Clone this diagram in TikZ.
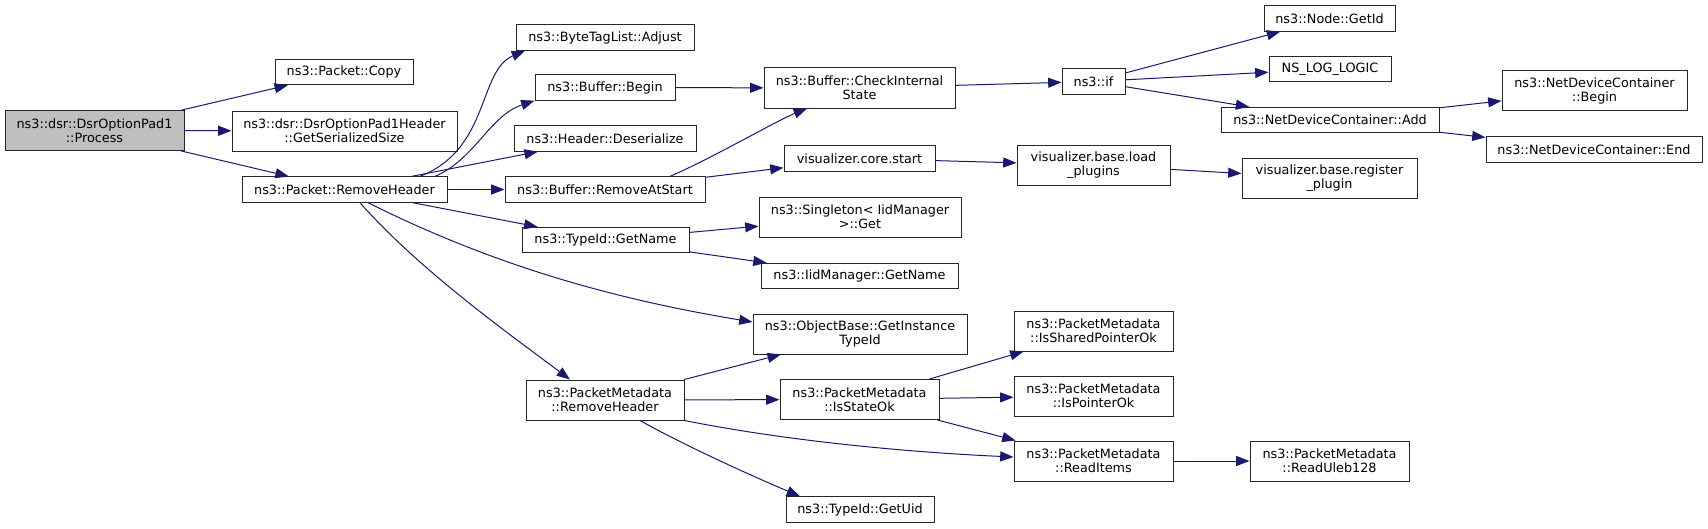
\documentclass[tikz,border=0pt]{standalone}
\usepackage{fontspec}
\setmainfont{DejaVu Sans}
\usetikzlibrary{arrows.meta}
\definecolor{edgeblue}{RGB}{25,25,112}
\definecolor{rootgray}{RGB}{191,191,191}

\begin{document}
\begin{tikzpicture}[x=0.75pt,y=0.75pt,
  every node/.style={font=\fontsize{9.6}{10.5}\selectfont},
  fn/.style={draw=black!85,line width=0.75pt,inner sep=0pt,align=center,minimum height=19pt},
  two/.style={minimum height=30pt},
  wd/.style={minimum width=#1*0.75pt},
  call/.style={draw=edgeblue,line width=0.75pt,-{Triangle[length=10pt,width=7.5pt]}}]
\useasboundingbox (0,0) rectangle (1708,-528);
% first column
\node[fn,two,wd=179,fill=rootgray] (proc) at (94.5,-130.5) {ns3::dsr::DsrOptionPad1\\::Process};
% second column
\node[fn,wd=138] (copy)  at (344,-72)    {ns3::Packet::Copy};
\node[fn,two,wd=225] (gss) at (344.5,-131) {ns3::dsr::DsrOptionPad1Header\\::GetSerializedSize};
\node[fn,wd=205] (prh)   at (344.5,-189.5) {ns3::Packet::RemoveHeader};
% third column
\node[fn,wd=178] (adj)   at (605,-37.5)  {ns3::ByteTagList::Adjust};
\node[fn,wd=140] (bbeg)  at (605,-87.5)  {ns3::Buffer::Begin};
\node[fn,wd=182] (deser) at (605,-138.5) {ns3::Header::Deserialize};
\node[fn,wd=200] (ras)   at (605,-189.5) {ns3::Buffer::RemoveAtStart};
\node[fn,wd=167] (gname) at (605.5,-240) {ns3::TypeId::GetName};
\node[fn,two,wd=158] (pmrh) at (605,-400) {ns3::PacketMetadata\\::RemoveHeader};
% fourth column
\node[fn,two,wd=191] (cis) at (859.5,-88) {ns3::Buffer::CheckInternal\\State};
\node[fn,wd=151] (cstart) at (859.5,-158.5) {visualizer.core.start};
\node[fn,two,wd=202] (single) at (860,-217) {ns3::Singleton< IidManager\\>::Get};
\node[fn,wd=197] (iname) at (859.5,-276) {ns3::IidManager::GetName};
\node[fn,two,wd=214] (oget) at (860,-334) {ns3::ObjectBase::GetInstance\\TypeId};
\node[fn,two,wd=159] (isok) at (859.5,-399.5) {ns3::PacketMetadata\\::IsStateOk};
\node[fn,wd=148] (guid) at (860,-509.5) {ns3::TypeId::GetUid};
% fifth column
\node[fn,wd=63] (nif) at (1093.5,-81.5) {ns3::if};
\node[fn,two,wd=153] (lplug) at (1093.5,-165) {visualizer.base.load\\\_plugins};
\node[fn,two,wd=159] (spok) at (1093.5,-331) {ns3::PacketMetadata\\::IsSharedPointerOk};
\node[fn,two,wd=159] (pok) at (1093.5,-396) {ns3::PacketMetadata\\::IsPointerOk};
\node[fn,two,wd=159] (ritems) at (1093.5,-461) {ns3::PacketMetadata\\::ReadItems};
% sixth column
\node[fn,wd=131] (gid) at (1329.5,-18.5) {ns3::Node::GetId};
\node[fn,wd=122] (nslog) at (1330,-69) {NS\_LOG\_LOGIC};
\node[fn,wd=218] (add) at (1330,-120) {ns3::NetDeviceContainer::Add};
\node[fn,two,wd=175] (rplug) at (1329.5,-178.5) {visualizer.base.register\\\_plugin};
\node[fn,two,wd=159] (ruleb) at (1329.5,-461) {ns3::PacketMetadata\\::ReadUleb128};
% last column
\node[fn,two,wd=185] (ndbeg) at (1594.5,-90.5) {ns3::NetDeviceContainer\\::Begin};
\node[fn,wd=216] (ndend) at (1594,-149.5) {ns3::NetDeviceContainer::End};
% calls
\draw[call] (proc) -- (copy);
\draw[call] (proc) -- (gss);
\draw[call] (proc) -- (prh);
\draw[call] ([xshift=56.6pt]prh.north) .. controls +(70,27) and +(-47,-20) .. ([xshift=-60pt]adj.south);
\draw[call] ([xshift=67.9pt]prh.north) .. controls +(40,17) and +(-45,-15) .. (bbeg.south west);
\draw[call] (prh) -- (deser);
\draw[call] (prh) -- (ras);
\draw[call] (prh) -- (gname);
\draw[call] ([xshift=17.6pt]prh.south) .. controls +(130,-65) and +(-133,22) .. ([yshift=9pt]oget.west);
\draw[call] ([xshift=11.6pt]prh.south) .. controls +(60,-68) and +(-60,45) .. ([xshift=-26.25pt]pmrh.north);
\draw[call] (bbeg) -- (cis);
\draw[call] ([xshift=48.75pt]ras.north) .. controls +(40,17) and +(-30,-12) .. ([xshift=-39.4pt]cis.south);
\draw[call] (ras) -- (cstart);
\draw[call] (gname) -- (single);
\draw[call] (gname) -- (iname);
\draw[call] (pmrh) -- (oget);
\draw[call] (pmrh) -- (isok);
\draw[call] (pmrh.south east) .. controls +(100,-20) and +(-110,5) .. ([yshift=3pt]ritems.west);
\draw[call] ([xshift=26.25pt]pmrh.south) .. controls +(50,-28) and +(-40,17) .. ([xshift=-45pt]guid.north);
\draw[call] (cis) -- (nif);
\draw[call] (cstart) -- (lplug);
\draw[call] (isok) -- (spok);
\draw[call] (isok) -- (pok);
\draw[call] (isok) -- (ritems);
\draw[call] (nif) -- (gid);
\draw[call] (nif) -- (nslog);
\draw[call] (nif) -- (add);
\draw[call] (lplug) -- (rplug);
\draw[call] (ritems) -- (ruleb);
\draw[call] (add) -- (ndbeg);
\draw[call] (add) -- (ndend);
\end{tikzpicture}
\end{document}
